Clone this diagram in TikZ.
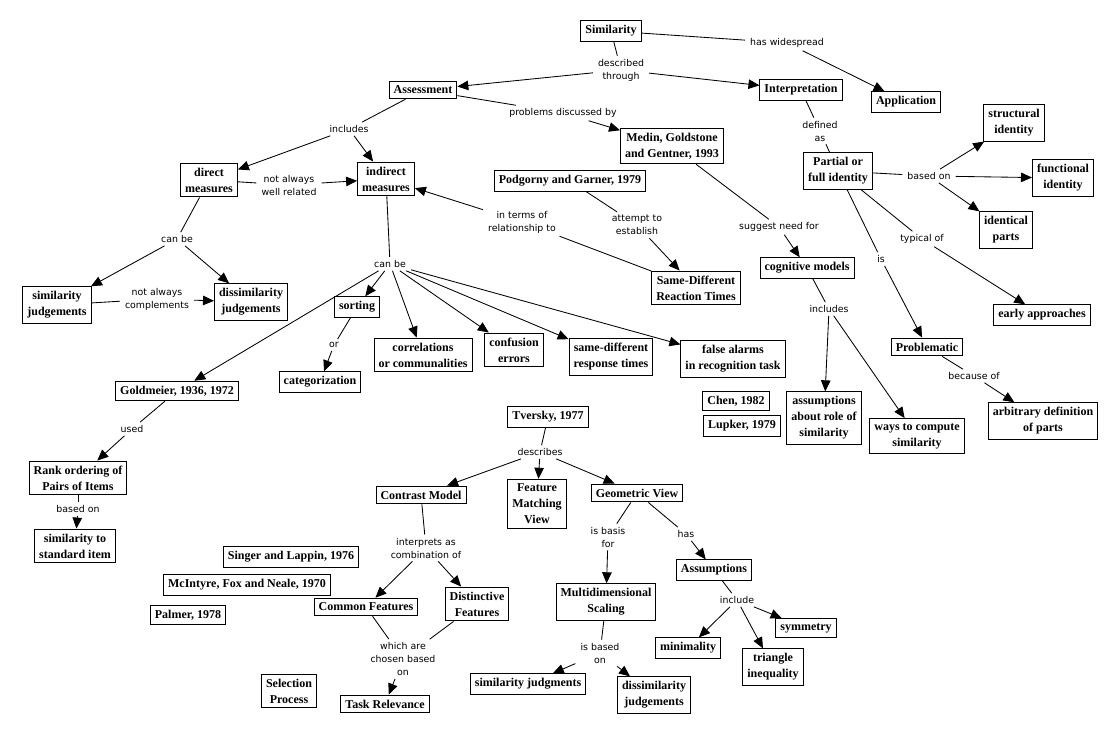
\documentclass[tikz,border=0pt]{standalone}
\usepackage{fontspec}
\setmainfont{Liberation Serif}
\newfontfamily\lblfont{DejaVu Sans}
\usetikzlibrary{arrows.meta}
\begin{document}
\begin{tikzpicture}[x=1pt,y=-1pt,
  cnode/.style={draw, line width=1pt, font=\bfseries\fontsize{12}{16}\selectfont, align=center, inner xsep=4.5pt, inner ysep=4.7pt},
  lbl/.style={font=\lblfont\fontsize{9.4}{13}\selectfont, align=center, inner xsep=5pt, inner ysep=3pt},
  ln/.style={line width=0.85pt},
  arr/.style={line width=0.85pt, -{Triangle[length=11pt,width=9.5pt]}}]
\fill[white] (0,0) rectangle (1118,735);
\useasboundingbox (0,0) rectangle (1118,735);
% concepts
\node[cnode] (sim) at (611,31) {Similarity};
\node[cnode] (ass) at (423,90) {Assessment};
\node[cnode] (int) at (801,90) {Interpretation};
\node[cnode] (app) at (906,102) {Application};
\node[cnode] (med) at (672,146) {Medin, Goldstone\\and Gentner, 1993};
\node[cnode] (pod) at (570,181) {Podgorny and Garner, 1979};
\node[cnode] (dir) at (209,180) {direct\\measures};
\node[cnode] (ind) at (386,179) {indirect\\measures};
\node[cnode] (sj) at (57,305) {similarity\\judgements};
\node[cnode] (dj) at (251,302) {dissimilarity\\judgements};
\node[cnode] (sort) at (357,307) {sorting};
\node[cnode] (corr) at (423,355) {correlations\\or communalities};
\node[cnode] (conf) at (514,350) {confusion\\errors};
\node[cnode] (sdr) at (611,357) {same-different\\response times};
\node[cnode] (fa) at (733,359) {false alarms\\in recognition task};
\node[cnode] (sdrt) at (696,288) {Same-Different\\Reaction Times};
\node[cnode] (cog) at (807,268) {cognitive models};
\node[cnode] (pfi) at (838,171) {Partial or\\full identity};
\node[cnode] (struct) at (1014,123) {structural\\identity};
\node[cnode] (func) at (1063,178) {functional\\identity};
\node[cnode] (ident) at (1006,230) {identical\\parts};
\node[cnode] (early) at (1042,315) {early approaches};
\node[cnode] (prob) at (927,347) {Problematic};
\node[cnode] (arb) at (1043,421) {arbitrary definition\\of parts};
\node[cnode] (ways) at (917,436) {ways to compute\\similarity};
\node[cnode] (aboutrole) at (824,418) {assumptions\\about role of\\similarity};
\node[cnode] (chen) at (736,401) {Chen, 1982};
\node[cnode] (lup) at (742,426) {Lupker, 1979};
\node[cnode] (cat) at (320,382) {categorization};
\node[cnode] (gold) at (177,391) {Goldmeier, 1936, 1972};
\node[cnode] (rank) at (78,478) {Rank ordering of\\Pairs of Items};
\node[cnode] (std) at (75,546) {similarity to\\standard item};
\node[cnode] (tv) at (548,417) {Tversky, 1977};
\node[cnode] (cm) at (421,495) {Contrast Model};
\node[cnode] (fmv) at (537,504) {Feature\\Matching\\View};
\node[cnode] (gv) at (637,493) {Geometric View};
\node[cnode] (sing) at (291,557) {Singer and Lappin, 1976};
\node[cnode] (mci) at (247,585) {McIntyre, Fox and Neale, 1970};
\node[cnode] (palm) at (188,615) {Palmer, 1978};
\node[cnode] (cf) at (366,607) {Common Features};
\node[cnode] (df) at (477,604) {Distinctive\\Features};
\node[cnode] (sel) at (289,691) {Selection\\Process};
\node[cnode] (task) at (385,704) {Task Relevance};
\node[cnode] (sjb) at (528,684) {similarity judgments};
\node[cnode] (mds) at (606,602) {Multidimensional\\Scaling};
\node[cnode] (djb) at (654,695) {dissimilarity\\judgements};
\node[cnode] (asm) at (714,570) {Assumptions};
\node[cnode] (mini) at (688,648) {minimality};
\node[cnode] (tri) at (773,667) {triangle\\inequality};
\node[cnode] (sym) at (806,628) {symmetry};
% linking phrases
\node[lbl] (l1) at (621,70) {described\\through};
\node[lbl] (l2) at (787,43) {has widespread};
\node[lbl] (l3) at (563,113) {problems discussed by};
\node[lbl] (l4) at (349,129) {includes};
\node[lbl] (l5) at (289,185) {not always\\well related};
\node[lbl] (l6) at (177,239) {can be};
\node[lbl] (l7) at (157,299) {not always\\complements};
\node[lbl] (l8) at (390,264) {can be};
\node[lbl] (l9) at (522,222) {in terms of\\relationship to};
\node[lbl] (l10) at (637,225) {attempt to\\establish};
\node[lbl] (l11) at (779,227) {suggest need for};
\node[lbl] (l12) at (820,131) {defined\\as};
\node[lbl] (l13) at (929,176) {based on};
\node[lbl] (l14) at (922,239) {typical of};
\node[lbl] (l15) at (881,259) {is};
\node[lbl] (l16) at (829,309) {includes};
\node[lbl] (l17) at (974,376) {because of};
\node[lbl] (l18) at (334,345) {or};
\node[lbl] (l19) at (132,429) {used};
\node[lbl] (l20) at (78,509) {based on};
\node[lbl] (l21) at (540,452) {describes};
\node[lbl] (l22) at (426,548) {interprets as\\combination of};
\node[lbl] (l23) at (403,659) {which are\\chosen based\\on};
\node[lbl] (l24) at (608,537) {is basis\\for};
\node[lbl] (l25) at (686,534) {has};
\node[lbl] (l26) at (737,600) {include};
\node[lbl] (l27) at (600,653) {is based\\on};
% connectors
\draw[ln] (sim) -- (l1); \draw[arr] (l1) -- (ass); \draw[arr] (l1) -- (int);
\draw[ln] (sim) -- (l2); \draw[arr] (l2) -- (app);
\draw[ln] (ass) -- (l3); \draw[arr] (l3) -- (med);
\draw[ln] (ass) -- (l4); \draw[arr] (l4) -- (dir); \draw[arr] (l4) -- (ind);
\draw[ln] (dir) -- (l5); \draw[arr] (l5) -- (ind);
\draw[ln] (dir) -- (l6); \draw[arr] (l6) -- (sj); \draw[arr] (l6) -- (dj);
\draw[ln] (sj) -- (l7); \draw[arr] (l7) -- (dj);
\draw[ln] (ind) -- (l8);
\draw[arr] (l8) -- (sort); \draw[arr] (l8) -- (corr); \draw[arr] (l8) -- (conf);
\draw[arr] (l8) -- (sdr); \draw[arr] (l8) -- (fa); \draw[arr] (l8) -- (gold);
\draw[ln] (sort) -- (l18); \draw[arr] (l18) -- (cat);
\draw[ln] (sdrt) -- (l9); \draw[arr] (l9) -- (ind);
\draw[ln] (pod) -- (l10); \draw[arr] (l10) -- (sdrt);
\draw[ln] (med) -- (l11); \draw[arr] (l11) -- (cog);
\draw[ln] (int) -- (l12); \draw[ln] (l12) -- (pfi);
\draw[ln] (pfi) -- (l13);
\draw[arr] (l13) -- (struct); \draw[arr] (l13) -- (func); \draw[arr] (l13) -- (ident);
\draw[ln] (pfi) -- (l14); \draw[arr] (l14) -- (early);
\draw[ln] (pfi) -- (l15); \draw[arr] (l15) -- (prob);
\draw[ln] (cog) -- (l16); \draw[arr] (l16) -- (aboutrole); \draw[arr] (l16) -- (ways);
\draw[ln] (prob) -- (l17); \draw[arr] (l17) -- (arb);
\draw[ln] (gold) -- (l19); \draw[arr] (l19) -- (rank);
\draw[ln] (rank) -- (l20); \draw[arr] (l20) -- (std);
\draw[ln] (tv) -- (l21);
\draw[arr] (l21) -- (cm); \draw[arr] (l21) -- (fmv); \draw[arr] (l21) -- (gv);
\draw[ln] (cm) -- (l22); \draw[arr] (l22) -- (cf); \draw[arr] (l22) -- (df);
\draw[ln] (cf) -- (l23); \draw[ln] (df) -- (l23); \draw[arr] (l23) -- (task);
\draw[ln] (gv) -- (l24); \draw[arr] (l24) -- (mds);
\draw[ln] (gv) -- (l25); \draw[arr] (l25) -- (asm);
\draw[ln] (asm) -- (l26);
\draw[arr] (l26) -- (mini); \draw[arr] (l26) -- (tri); \draw[arr] (l26) -- (sym);
\draw[ln] (mds) -- (l27); \draw[arr] (l27) -- (sjb); \draw[arr] (l27) -- (djb);
\end{tikzpicture}
\end{document}
